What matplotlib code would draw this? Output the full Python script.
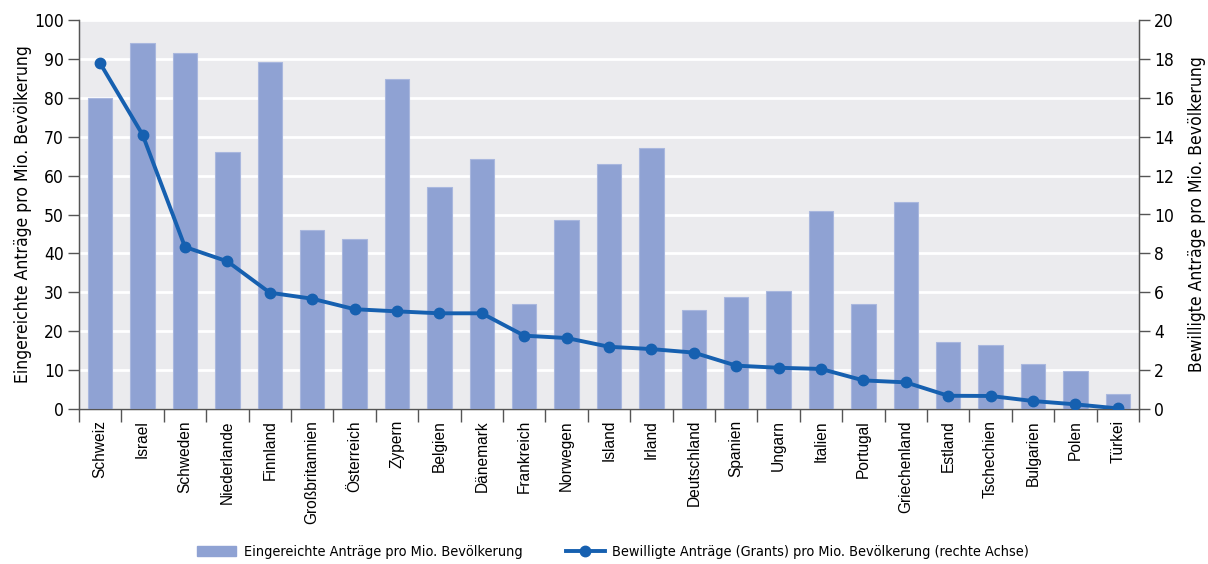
import matplotlib
matplotlib.use("Agg")
import matplotlib.pyplot as plt
import numpy as np
from matplotlib.lines import Line2D
from matplotlib.patches import Patch
from matplotlib import font_manager as fm

countries = ["Schweiz", "Israel", "Schweden", "Niederlande", "Finnland", "Großbritannien",
             "Österreich", "Zypern", "Belgien", "Dänemark", "Frankreich", "Norwegen",
             "Island", "Irland", "Deutschland", "Spanien", "Ungarn", "Italien", "Portugal",
             "Griechenland", "Estland", "Tschechien", "Bulgarien", "Polen", "Türkei"]
eingereicht = [80.0, 94.0, 91.6, 66.1, 89.2, 46.1, 43.7, 84.9, 57.1, 64.3, 26.9, 48.5,
               62.9, 67.2, 25.4, 28.9, 30.3, 50.9, 26.9, 53.3, 17.3, 16.4, 11.6, 9.8, 3.9]
bewilligt = [17.77, 14.1, 8.33, 7.59, 5.98, 5.67, 5.13, 5.02, 4.92, 4.92, 3.77, 3.65,
             3.20, 3.08, 2.90, 2.23, 2.12, 2.06, 1.47, 1.37, 0.68, 0.67, 0.41, 0.24, 0.03]
left_ticks = [0, 10, 20, 30, 40, 50, 60, 70, 80, 90, 100]
right_ticks = [0, 2, 4, 6, 8, 10, 12, 14, 16, 18, 20]
label_left = "Eingereichte Anträge pro Mio. Bevölkerung"
label_right = "Bewilligte Anträge pro Mio. Bevölkerung"
legend_bar = "Eingereichte Anträge pro Mio. Bevölkerung"
legend_line = "Bewilligte Anträge (Grants) pro Mio. Bevölkerung (rechte Achse)"

narrow_fp = dict(family="DejaVu Sans", stretch="condensed")
plain = ["Liberation Sans", "DejaVu Sans"]

bar_color = "#8FA2D3"
line_color = "#1660B0"
axis_color = "#555555"

fig = plt.figure(figsize=(12.08, 5.64), dpi=100)
ax = fig.add_axes([79/1208, 1-409/564, (1139-79)/1208, (409-20)/564])
ax.set_facecolor("#EBEBEE")
x = np.arange(len(countries))
ax.bar(x, eingereicht, width=0.58, color=bar_color, edgecolor="#A9B7DE", linewidth=0.8, zorder=3)
ax.set_xlim(-0.5, len(countries)-0.5)
ax.set_ylim(0, 100)
ax.set_yticks(left_ticks)
ax.yaxis.grid(True, color="white", linewidth=2, zorder=1)
ax.set_axisbelow(True)
ax.set_xticks(x)
ax.set_xticklabels(countries, rotation=90, fontsize=11.2, family=plain)
ax.tick_params(axis="x", length=0, pad=8)
ax.set_xticks(np.arange(-0.5, len(countries), 1), minor=True)
ax.tick_params(axis="x", which="minor", length=9, color=axis_color, width=1)
ax.tick_params(axis="y", length=8, color=axis_color, width=1, pad=3)
for lab in ax.get_yticklabels():
    lab.set_fontproperties(fm.FontProperties(size=12.5, **narrow_fp))
ax.set_ylabel(label_left, fontproperties=fm.FontProperties(size=12.6, **narrow_fp), labelpad=1.5)
ax.spines["top"].set_visible(False)
for s in ["left", "bottom", "right"]:
    ax.spines[s].set_color(axis_color)
    ax.spines[s].set_linewidth(1)

ax2 = ax.twinx()
ax2.plot(x, bewilligt, color=line_color, linewidth=2.8, marker="o", markersize=7.5, zorder=5)
ax2.set_ylim(0, 20)
ax2.set_yticks(right_ticks)
ax2.tick_params(axis="y", length=8, color=axis_color, width=1, pad=3)
for lab in ax2.get_yticklabels():
    lab.set_fontproperties(fm.FontProperties(size=12.5, **narrow_fp))
ax2.set_ylabel(label_right, fontproperties=fm.FontProperties(size=12.6, **narrow_fp), labelpad=10)
ax2.spines["top"].set_visible(False)
for s in ["left", "bottom", "right"]:
    ax2.spines[s].set_color(axis_color)

handles = [Patch(facecolor=bar_color, edgecolor=bar_color),
           Line2D([0], [0], color=line_color, linewidth=2.8, marker="o", markersize=7.5)]
fig.legend(handles, [legend_bar, legend_line], loc="center", bbox_to_anchor=(0.5 + 9/1208, 1-552/564),
           ncol=2, frameon=False, prop=fm.FontProperties(size=10.4, **narrow_fp), handlelength=2.7,
           columnspacing=3.0, handletextpad=0.5)

fig.savefig("out.png", dpi=100)
